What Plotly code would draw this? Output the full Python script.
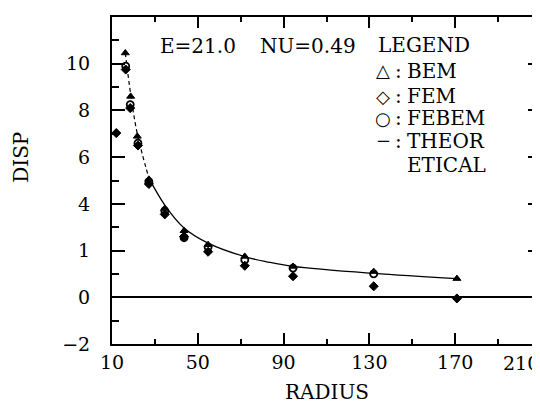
import plotly.graph_objects as go

# ---- data ----
radius_bem = [16.2, 18.7, 21.8, 27.2, 34.6, 43.6, 54.8, 71.9, 94.4, 132.0, 170.8]
disp_bem = [10.46, 8.6, 6.89, 5.05, 3.8, 2.85, 2.25, 1.75, 1.32, 1.1, 0.8]

radius_fem = [12.0, 16.4, 18.5, 22.1, 27.2, 34.6, 43.6, 54.8, 71.9, 94.4, 132.0, 170.8]
disp_fem = [7.03, 9.75, 8.1, 6.5, 4.85, 3.55, 2.6, 1.95, 1.35, 0.9, 0.47, -0.05]

radius_febem = [16.4, 18.5, 22.1, 27.2, 34.6, 43.6, 54.8, 71.9, 94.4, 132.0]
disp_febem = [9.9, 8.25, 6.6, 4.95, 3.7, 2.55, 2.15, 1.6, 1.25, 1.0]

radius_theor = [16.2, 18.7, 21.8, 27.2, 34.6, 43.6, 54.8, 71.9, 82.7, 94.4, 132.0, 170.8]
disp_theor = [10.46, 8.7, 7.0, 5.1, 3.95, 2.97, 2.32, 1.74, 1.51, 1.32, 1.02, 0.8]

x_tickvals = [10, 50, 90, 130, 170, 210]
x_ticktext = ["10", "50", "90", "130", "170", ""]   # last label drawn separately (kept inside page)
x_last_label = "210"
y_tickvals = [12, 10, 8, 6, 4, 2, 0, -2]
y_ticktext = ["12", "10", "8", "6", "4", "1", "0", "\u22122"]

legend_symbols = ["\u25b3", "\u25c7", "\u25cb", "\u2212"]
legend_names = ["BEM", "FEM", "FEBEM", "THEOR"]

FONT = "DejaVu Serif"
fig = go.Figure()

# theoretical curve: dashed near the origin, solid further out
split = 3
fig.add_trace(go.Scatter(x=radius_theor[:split + 1], y=disp_theor[:split + 1], mode="lines",
                         line=dict(color="black", width=1.2, dash="4px,3px", shape="spline"),
                         showlegend=False, hoverinfo="skip"))
fig.add_trace(go.Scatter(x=radius_theor[split:], y=disp_theor[split:], mode="lines",
                         line=dict(color="black", width=1.3, shape="spline"),
                         showlegend=False, hoverinfo="skip"))

fig.add_trace(go.Scatter(x=radius_febem, y=disp_febem, mode="markers",
                         marker=dict(symbol="circle", size=7, color="white",
                                     line=dict(color="black", width=1.8)),
                         showlegend=False))
fig.add_trace(go.Scatter(x=radius_fem, y=disp_fem, mode="markers",
                         marker=dict(symbol="diamond", size=7, color="black",
                                     line=dict(color="black", width=1)),
                         showlegend=False))
fig.add_trace(go.Scatter(x=radius_bem, y=disp_bem, mode="markers",
                         marker=dict(symbol="triangle-up", size=7, color="black",
                                     line=dict(color="black", width=1)),
                         showlegend=False))

axis_common = dict(showline=True, linecolor="black", linewidth=2, mirror="ticks",
                   ticks="inside", tickcolor="black", tickwidth=1.5,
                   showgrid=False, tickfont=dict(family=FONT, size=19, color="black"))

fig.update_xaxes(range=[10, 210], tickvals=x_tickvals, ticktext=x_ticktext, ticklen=11,
                 minor=dict(ticks="inside", dtick=20, tick0=10, ticklen=5, tickwidth=1.5, tickcolor="black"),
                 zeroline=False, automargin=False, **axis_common)
fig.update_yaxes(range=[-2, 12], tickvals=y_tickvals, ticktext=y_ticktext, ticklen=13,
                 minor=dict(ticks="inside", dtick=1, tick0=0, ticklen=7, tickwidth=1.5, tickcolor="black"),
                 zeroline=True, zerolinecolor="black", zerolinewidth=1.6,
                 ticklabelstandoff=16, automargin=False, **axis_common)

fig.add_annotation(text=x_last_label, x=1.0, xref="paper", y=-0.083, yref="paper",
                   showarrow=False, xanchor="center", yanchor="middle", xshift=-20, yshift=8,
                   font=dict(family=FONT, size=19, color="black"))

def note(text, x, y, size=20, anchor="left", xshift=-2):
    fig.add_annotation(text=text, x=x, y=y, xref="paper", yref="paper", showarrow=False,
                       xanchor=anchor, yanchor="middle", xshift=xshift,
                       font=dict(family=FONT, size=size, color="black"))

note("E=21.0", 0.107, 0.911, xshift=0)
note("NU=0.49", 0.336, 0.911, xshift=2)
note("LEGEND", 0.632, 0.914, xshift=-7)
row_y = [0.835, 0.758, 0.691, 0.621]
for sym, name, yy in zip(legend_symbols, legend_names, row_y):
    note(sym, 0.632, yy, size=18, anchor="center", xshift=0)
    note(":", 0.668, yy, anchor="center", xshift=0)
    note(name, 0.690, yy, xshift=-3)
note("ETICAL", 0.690, 0.547, xshift=-3)

fig.add_annotation(text="DISP", x=-0.203, y=0.615, xref="paper", yref="paper", showarrow=False,
                   xanchor="center", yanchor="middle", xshift=-4, yshift=-14,
                   textangle=-90, font=dict(family=FONT, size=20, color="black"))
fig.add_annotation(text="RADIUS", x=0.5, y=-0.171, xref="paper", yref="paper", showarrow=False,
                   xanchor="center", yanchor="middle", yshift=8,
                   font=dict(family=FONT, size=20, color="black"))

fig.update_layout(width=540, height=407, margin=dict(l=104, r=7, t=9, b=71),
                  plot_bgcolor="white", paper_bgcolor="white",
                  font=dict(family=FONT, color="black"))

fig.write_html("out.html")
